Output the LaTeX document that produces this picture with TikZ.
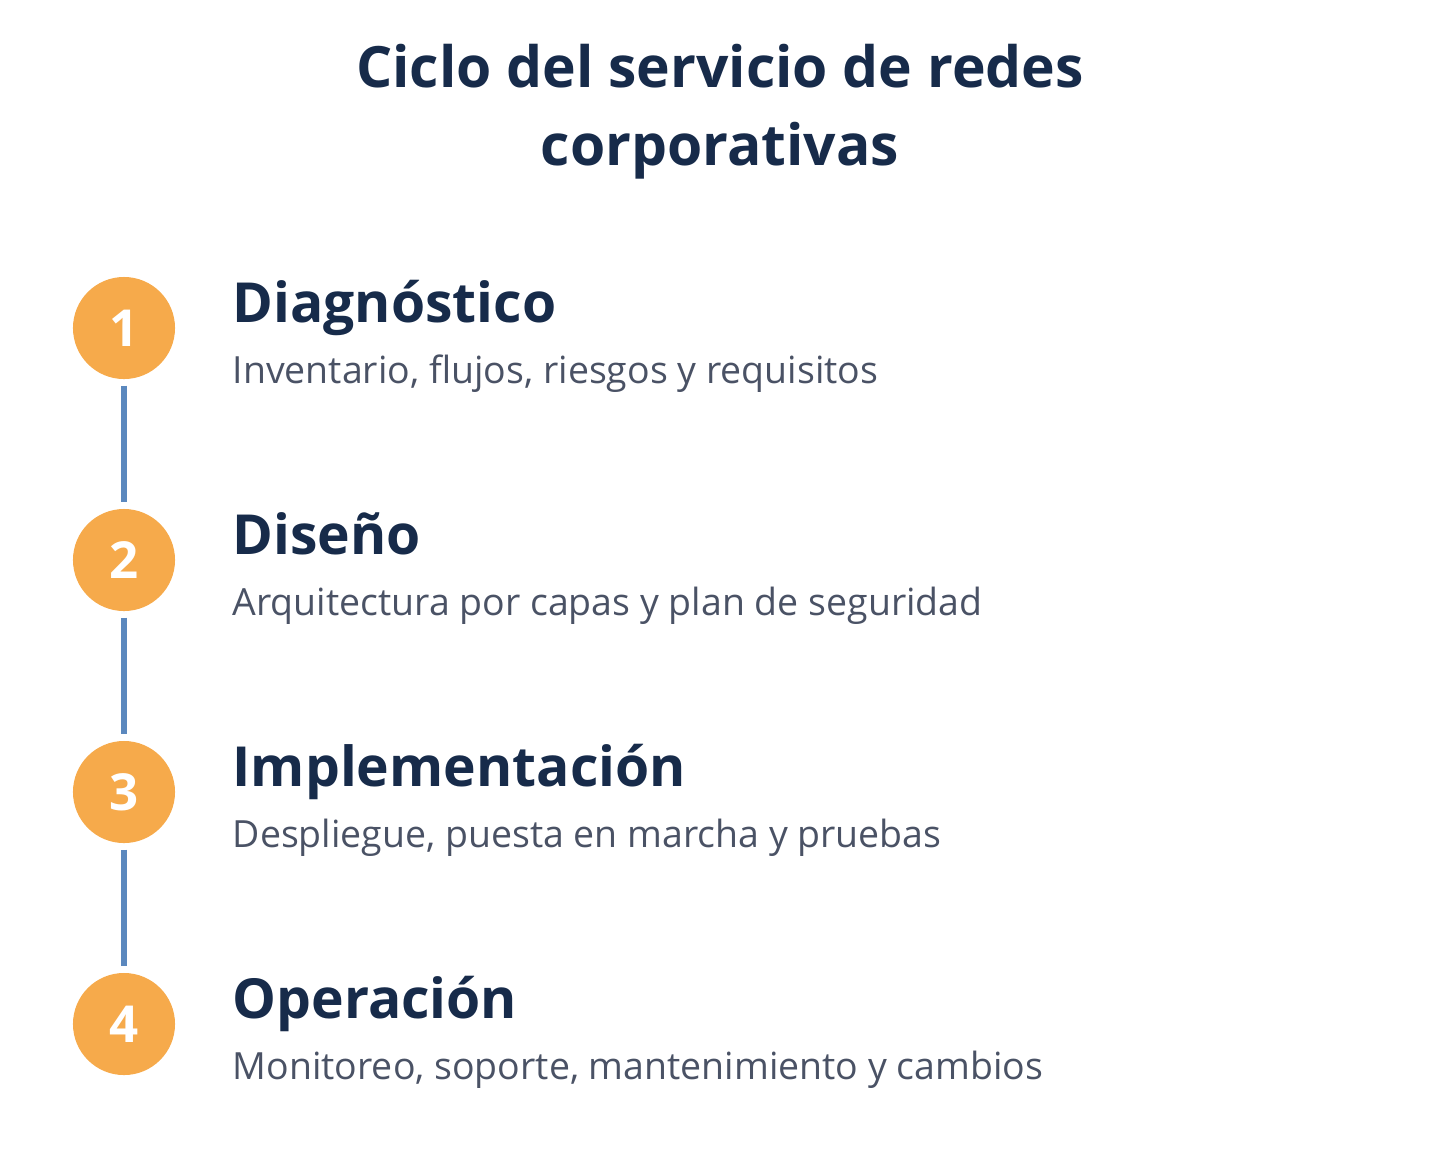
\documentclass[tikz,border=0pt]{standalone}
\usepackage{fontspec}
\setmainfont{Open Sans}
\usepackage{tikz}
\usetikzlibrary{positioning}

\definecolor{navy}{HTML}{172B4A}
\definecolor{descgray}{HTML}{4A5265}
\definecolor{steporange}{HTML}{F6AA4B}
\definecolor{linkblue}{HTML}{5B88BE}

\begin{document}
\begin{tikzpicture}[
  x=0.01cm, y=-0.01cm,
  num/.style={circle, fill=steporange, minimum size=1.02cm, inner sep=0pt, text=white, font=\bfseries\fontsize{14.5}{14.5}\selectfont},
  ttl/.style={anchor=base west, inner sep=0pt, text=navy, font=\bfseries\fontsize{15.7}{15.7}\selectfont},
  desc/.style={anchor=base west, inner sep=0pt, text=descgray, font=\fontsize{10.65}{10.65}\selectfont},
  link/.style={draw=linkblue, line width=1.7pt, shorten <=1.7pt, shorten >=1.7pt}
]
  \useasboundingbox (0,0) rectangle (1440,1172);

  % Title
  \node[anchor=base, align=center, inner sep=0pt, text=navy, font=\bfseries\fontsize{16.2}{21.9}\selectfont] (title) at (720,165) {Ciclo del servicio de redes\\corporativas};

  % Steps
  \node[num] (n1) at (124,328) {1};
  \node[num] (n2) at (124,560) {2};
  \node[num] (n3) at (124,792) {3};
  \node[num] (n4) at (124,1024) {4};

  % Headings and descriptions
  \node[ttl] (t1) at (232,322) {Diagnóstico};
  \node[desc] (d1) at (232,383) {Inventario, flujos, riesgos y requisitos};
  \node[ttl] (t2) at (232,554) {Diseño};
  \node[desc] (d2) at (232,615) {Arquitectura por capas y plan de seguridad};
  \node[ttl] (t3) at (232,786) {Implementación};
  \node[desc] (d3) at (232,847) {Despliegue, puesta en marcha y pruebas};
  \node[ttl] (t4) at (232,1018) {Operación};
  \node[desc] (d4) at (232,1079) {Monitoreo, soporte, mantenimiento y cambios};

  % Links
  \draw[link] (n1) -- (n2);
  \draw[link] (n2) -- (n3);
  \draw[link] (n3) -- (n4);

\end{tikzpicture}
\end{document}
